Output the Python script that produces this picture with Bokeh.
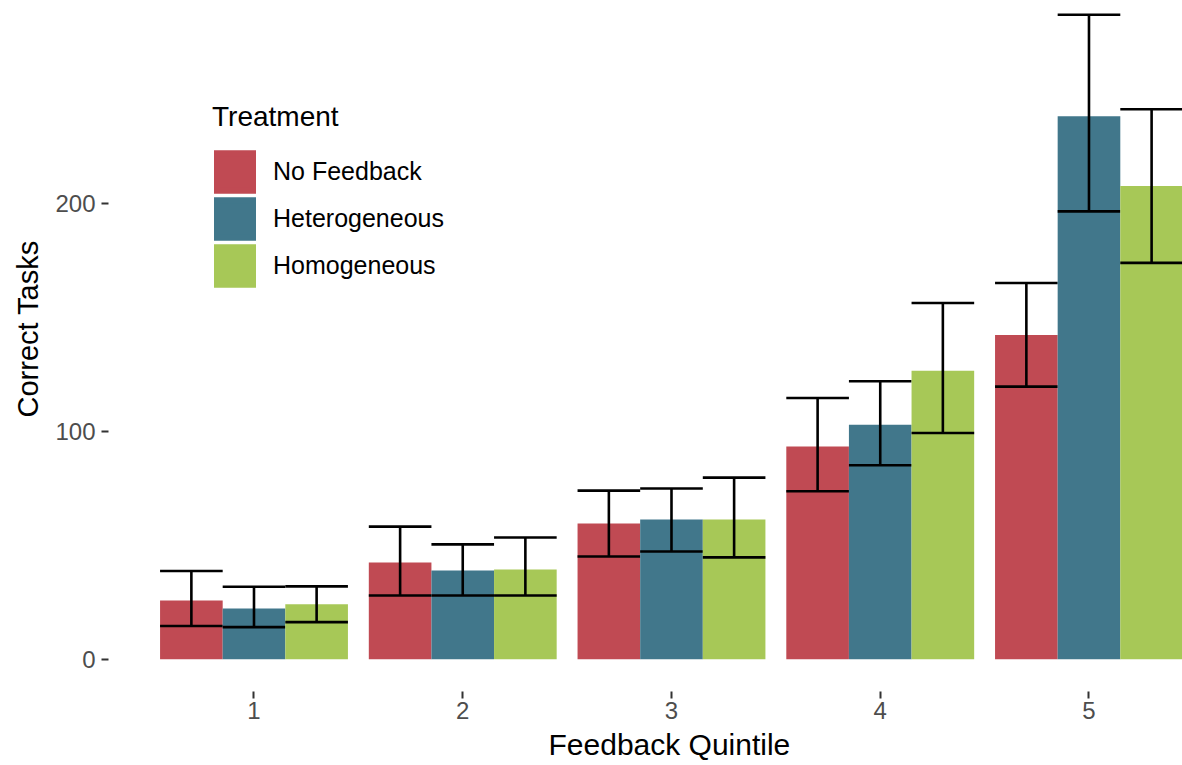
import numpy as np
from bokeh.plotting import figure
from bokeh.models import Range1d, FixedTicker, Legend, LegendItem, ColumnDataSource, Title
from bokeh.transform import dodge
from bokeh.embed import file_html
from bokeh.resources import INLINE

quintiles = [1, 2, 3, 4, 5]
treatments = ["No Feedback", "Heterogeneous", "Homogeneous"]
colors = ["#C04A53", "#41778B", "#A7C857"]

nf_mean = [25.8, 42.5, 59.6, 93.3, 142.3]
nf_lo = [14.6, 28.0, 45.1, 73.7, 119.6]
nf_hi = [38.7, 58.2, 74.0, 114.6, 165.1]

het_mean = [22.3, 39.0, 61.3, 102.9, 238.2]
het_lo = [14.1, 28.0, 47.3, 85.1, 196.5]
het_hi = [31.8, 50.4, 74.9, 122.0, 282.8]

hom_mean = [24.1, 39.4, 61.3, 126.6, 207.6]
hom_lo = [16.3, 28.0, 44.7, 99.3, 173.9]
hom_hi = [32.0, 53.4, 79.7, 156.3, 241.3]

y_ticks = [0, 100, 200]
x_title = "Feedback Quintile"
y_title = "Correct Tasks"
legend_title = "Treatment"

series = [(nf_mean, nf_lo, nf_hi), (het_mean, het_lo, het_hi), (hom_mean, hom_lo, hom_hi)]
bar_w = 0.3
offsets = [-0.3, 0.0, 0.3]
FONT = "Liberation Sans"

p = figure(width=1182, height=765,
           x_range=Range1d(0.303, 5.448), y_range=Range1d(-14.14, 289.03),
           output_backend="svg", toolbar_location=None,
           min_border_left=108, min_border_right=0, min_border_top=0, min_border_bottom=73)
p.grid.visible = False
p.outline_line_color = None
p.background_fill_color = "white"

legend_items = []
for (mean, lo, hi), off, col, name in zip(series, offsets, colors, treatments):
    src = ColumnDataSource(dict(q=quintiles, mean=mean, lo=lo, hi=hi))
    p.vbar(x=dodge("q", off), top="mean", bottom=0, width=bar_w, source=src,
           fill_color=col, line_color=None)
    p.segment(x0=dodge("q", off), x1=dodge("q", off), y0="lo", y1="hi", source=src,
              line_color="black", line_width=2.6)
    p.segment(x0=dodge("q", off - bar_w / 2), x1=dodge("q", off + bar_w / 2), y0="hi", y1="hi",
              source=src, line_color="black", line_width=2.6)
    p.segment(x0=dodge("q", off - bar_w / 2), x1=dodge("q", off + bar_w / 2), y0="lo", y1="lo",
              source=src, line_color="black", line_width=2.6)
    key_src = ColumnDataSource(dict(x=np.array([np.nan]), top=np.array([np.nan])))
    key = p.vbar(x="x", top="top", width=bar_w, source=key_src,
                 fill_color=col, line_color=col, line_width=6, line_join="miter")
    legend_items.append(LegendItem(label=name, renderers=[key]))

legend = Legend(items=legend_items, location=(104, 402), orientation="vertical",
                title=legend_title, title_text_font=FONT, title_text_font_size="28px",
                title_text_font_style="normal", title_text_color="black", title_standoff=15,
                label_text_font=FONT, label_text_font_size="25px", label_text_color="black",
                glyph_width=45, glyph_height=47, spacing=0, label_standoff=16,
                padding=0, margin=0, border_line_color=None, background_fill_alpha=0)
p.add_layout(legend, "center")

for ax in (p.xaxis, p.yaxis):
    ax.axis_line_color = None
    ax.major_tick_in = 0
    ax.major_tick_out = 7
    ax.major_tick_line_color = "#333333"
    ax.major_tick_line_width = 2
    ax.minor_tick_line_color = None
    ax.major_label_text_font = FONT
    ax.major_label_text_font_size = "24px"
    ax.major_label_text_color = "#4D4D4D"

p.xaxis.ticker = FixedTicker(ticks=quintiles)
p.yaxis.ticker = FixedTicker(ticks=y_ticks)
p.xaxis.major_label_standoff = 3
p.yaxis.major_label_standoff = 6

# axis titles, placed as in the reference (centred on a partly cropped panel)
p.add_layout(Title(text=x_title, align="left", offset=440, standoff=9,
                   text_font=FONT, text_font_size="30px", text_font_style="normal",
                   text_color="black"), "below")
p.add_layout(Title(text=y_title, align="left", offset=274, standoff=18,
                   text_font=FONT, text_font_size="29px", text_font_style="normal",
                   text_color="black"), "left")

open("out.html", "w").write(file_html(p, INLINE))
